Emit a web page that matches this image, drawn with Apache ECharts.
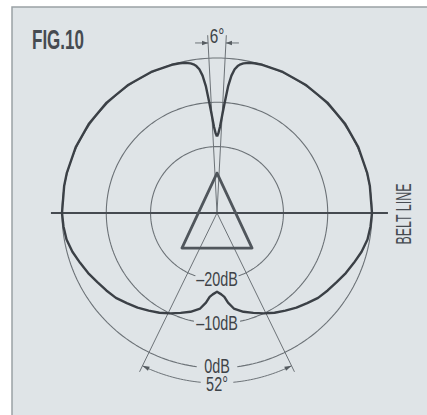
<!DOCTYPE html>
<html>
<head>
<meta charset="utf-8">
<script src="https://cdn.jsdelivr.net/npm/echarts@6/dist/echarts.min.js"></script>
<style>
html,body{margin:0;padding:0;background:#fff;}
#c{width:427px;height:415px;}
</style>
</head>
<body>
<div id="c"></div>
<script>
// ---- data (dB vs angle, 0° = up, clockwise) ----
const patternAngles = [0,1,2,3,4,5,6,7,8,9,10,12,14,17,25,35,45,55,65,75,80,90,95,100,105,110,115,120,125,130,135,140,145,150,155,160,165,170,173,175,177,180];
const patternDb     = [-17.7,-17.0,-15.5,-13.0,-10.0,-6.3,-3.8,-2.3,-1.5,-1.0,-0.7,-0.35,-0.15,0,0.15,0.2,0.25,0.25,0.2,0.1,0.05,0,-0.2,-0.5,-1.2,-2.1,-2.9,-3.8,-4.5,-5.2,-6.2,-7.1,-8.1,-9.0,-10.0,-11.0,-11.9,-13.1,-14.6,-16.0,-16.6,-17.2];
const ringDb        = [-20, -10, 0];
const ringLabels    = ['–20dB', '–10dB', '0dB'];
const ringGapDeg    = [19, 12, 7.5];
const nullHalfDeg   = 3;      // 6° null marker
const nullLineDb    = 5.2;
const nullArrowDb   = 3.45;
const nullLabel     = '6°';
const beamHalfDeg   = 26;     // 52° beam marker
const beamLineDb    = 4.9;
const beamArcDb     = 3.4;
const beamLabel     = '52°';
const beamGapDeg    = 5.5;
const beltLeftDb    = 2.5;
const beltRightDb   = 3.6;
const triangleDb    = [-26.0, -23.8, -23.8, -26.0];
const triangleAng   = [0, 135, 225, 360];
const titleText     = 'FIG.10';
const beltText      = 'BELT LINE';

const R_MIN = -35, R_MAX = 6;
const PX_PER_DB = 155 / 35;
const CENTER = [217, 213];
const FONT = "'Liberation Sans',Arial,sans-serif";
const THIN = '#6c7277';
const DARK = '#3b4046';
const TEXT = '#3e4348';

// ---- build series data ----
const pattern = [];
for (let i = 0; i < patternAngles.length; i++) pattern.push([patternDb[i], patternAngles[i]]);
for (let i = patternAngles.length - 2; i >= 0; i--) pattern.push([patternDb[i], 360 - patternAngles[i]]);

function arc(db, a0, a1, step) {
  const pts = [];
  const n = Math.max(2, Math.ceil(Math.abs(a1 - a0) / step));
  for (let k = 0; k <= n; k++) {
    let a = a0 + (a1 - a0) * k / n;
    pts.push([db, ((a % 360) + 360) % 360]);
  }
  return pts;
}

const series = [];
series.push({type:'line', coordinateSystem:'polar', data: arc(0, 0, 360, 2), symbol:'none', silent:true,
  lineStyle:{width:0, opacity:0}, areaStyle:{color:'#fbfcfc', opacity:1}, z:1});
ringDb.forEach((d, i) => {
  series.push({type:'line', coordinateSystem:'polar', data: arc(d, 180 + ringGapDeg[i], 540 - ringGapDeg[i], 1.5),
    symbol:'none', silent:true, lineStyle:{color:THIN, width:1.1}, z:3});
});
[-nullHalfDeg, nullHalfDeg].forEach(a => {
  series.push({type:'line', coordinateSystem:'polar', data:[[R_MIN, (a+360)%360],[nullLineDb, (a+360)%360]],
    symbol:'none', silent:true, lineStyle:{color:THIN, width:1}, z:3});
});
[180 - beamHalfDeg, 180 + beamHalfDeg].forEach(a => {
  series.push({type:'line', coordinateSystem:'polar', data:[[R_MIN, a],[beamLineDb, a]],
    symbol:'none', silent:true, lineStyle:{color:THIN, width:1}, z:3});
});
series.push({type:'line', coordinateSystem:'polar', data: arc(beamArcDb, 180 - beamHalfDeg, 180 - beamGapDeg, 1),
  symbol:'none', silent:true, lineStyle:{color:THIN, width:1}, z:3});
series.push({type:'line', coordinateSystem:'polar', data: arc(beamArcDb, 180 + beamGapDeg, 180 + beamHalfDeg, 1),
  symbol:'none', silent:true, lineStyle:{color:THIN, width:1}, z:3});
series.push({type:'line', coordinateSystem:'polar', data:[[beltLeftDb, 270],[R_MIN, 0],[beltRightDb, 90]],
  symbol:'none', silent:true, lineStyle:{color:'#454a50', width:1.8}, z:4});
series.push({type:'line', coordinateSystem:'polar', data: triangleDb.map((d, i) => [d, triangleAng[i] % 360]),
  symbol:'none', silent:true, lineStyle:{color:'#50565c', width:2.8, join:'round', cap:'round'}, z:4});
series.push({type:'line', coordinateSystem:'polar', data: pattern, symbol:'none', silent:true,
  lineStyle:{color:DARK, width:2.4, join:'round'}, z:5});

const chart = echarts.init(document.getElementById('c'), null, {renderer:'svg'});
chart.setOption({
  backgroundColor:'#ffffff',
  animation:false,
  polar:{center: CENTER, radius: (R_MAX - R_MIN) * PX_PER_DB},
  angleAxis:{type:'value', min:0, max:360, startAngle:90, clockwise:true, show:false,
    axisLine:{show:false}, axisTick:{show:false}, axisLabel:{show:false}, splitLine:{show:false}},
  radiusAxis:{type:'value', min:R_MIN, max:R_MAX, show:false,
    axisLine:{show:false}, axisTick:{show:false}, axisLabel:{show:false}, splitLine:{show:false}},
  series: series
});

// ---- annotations (positions from the polar coordinate system) ----
function px(db, a) { return chart.convertToPixel({polarIndex:0}, [db, a]); }
function head(tip, from, len, half) {
  const dx = tip[0] - from[0], dy = tip[1] - from[1];
  const L = Math.hypot(dx, dy) || 1;
  const ux = dx / L, uy = dy / L;
  const bx = tip[0] - ux * len, by = tip[1] - uy * len;
  return [[tip[0], tip[1]], [bx - uy * half, by + ux * half], [bx + uy * half, by - ux * half]];
}
function label(text, p, dy, size, sx, sy) {
  return {type:'text', z:10, silent:true, x:p[0], y:p[1] + dy, scaleX:sx, scaleY:sy,
    style:{text:text, fill:TEXT, font:size + "px " + FONT, textAlign:'center', textVerticalAlign:'middle'}};
}
const g = [];
g.push({type:'rect', z:-10, silent:true, shape:{x:12, y:7, width:440, height:430},
  style:{fill:'#dfe4e7', stroke:'#9ba1a5', lineWidth:1.5}});
g.push({type:'text', z:10, silent:true, x:32, y:40, scaleX:0.68, scaleY:1.08,
  style:{text:titleText, fill:'#464b51', font:"bold 25px " + FONT, textAlign:'left', textVerticalAlign:'middle'}});
g.push({type:'text', z:10, silent:true, x:404, y:214, rotation:Math.PI/2, scaleX:0.62, scaleY:1.1,
  style:{text:beltText, fill:'#464b51', font:"20px " + FONT, textAlign:'center', textVerticalAlign:'middle'}});
ringDb.forEach((d, i) => g.push(label(ringLabels[i], px(d, 180), i === 2 ? -1.5 : 0, 18, 0.8, 1.08)));
g.push(label(beamLabel, px(beamArcDb, 180), 1.5, 18, 0.8, 1.08));
g.push(label(nullLabel, px(nullLineDb, 0), 1, 18, 0.85, 1.08));
const pl = px(nullArrowDb, 360 - nullHalfDeg);
const pr = px(nullArrowDb, nullHalfDeg);
const lenA = 13;
g.push({type:'polyline', z:10, silent:true, shape:{points:[[pl[0]-lenA, pl[1]], [pl[0], pl[1]]]}, style:{stroke:THIN, lineWidth:1}});
g.push({type:'polygon', z:10, silent:true, shape:{points: head(pl, [pl[0]-lenA, pl[1]], 6, 2.2)}, style:{fill:'#555b60'}});
g.push({type:'polyline', z:10, silent:true, shape:{points:[[pr[0]+lenA, pr[1]], [pr[0], pr[1]]]}, style:{stroke:THIN, lineWidth:1}});
g.push({type:'polygon', z:10, silent:true, shape:{points: head(pr, [pr[0]+lenA, pr[1]], 6, 2.2)}, style:{fill:'#555b60'}});
const tl = px(beamArcDb, 180 + beamHalfDeg), fl = px(beamArcDb, 180 + beamHalfDeg - 3);
const tr = px(beamArcDb, 180 - beamHalfDeg), fr = px(beamArcDb, 180 - beamHalfDeg + 3);
g.push({type:'polygon', z:10, silent:true, shape:{points: head(tl, fl, 7, 2.2)}, style:{fill:'#555b60'}});
g.push({type:'polygon', z:10, silent:true, shape:{points: head(tr, fr, 7, 2.2)}, style:{fill:'#555b60'}});
chart.setOption({graphic: g});
</script>
</body>
</html>
